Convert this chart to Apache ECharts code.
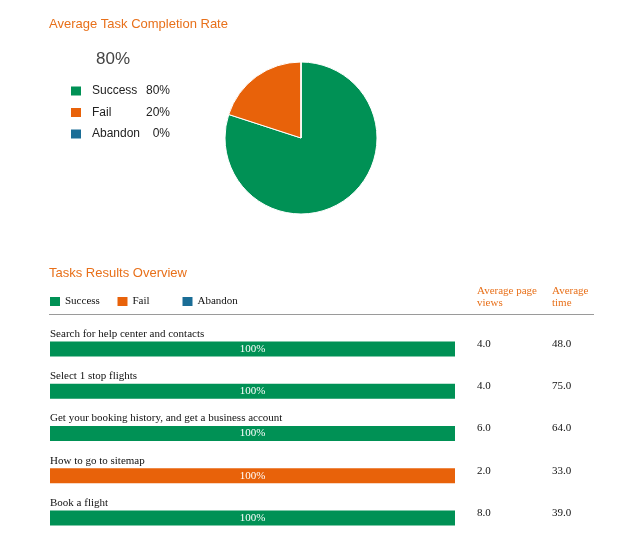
<!DOCTYPE html>
<html>
<head>
<meta charset="utf-8">
<title>Task results</title>
<script src="https://cdn.jsdelivr.net/npm/echarts@6/dist/echarts.min.js"></script>
<style>
  html, body { margin: 0; padding: 0; background: #fff; }
  #main { width: 626px; height: 539px; }
</style>
</head>
<body>
<div id="main"></div>
<script type="text/javascript">
// pie data
var rateNames = ['Success', 'Fail', 'Abandon'];
var rateValues = [80, 20, 0];

// task rows
var tasks = [
  'Search for help center and contacts',
  'Select 1 stop flights',
  'Get your booking history, and get a business account',
  'How to go to sitemap',
  'Book a flight'
];
var successPct = [100, 100, 100, 0, 100];
var failPct = [0, 0, 0, 100, 0];
var abandonPct = [0, 0, 0, 0, 0];
var pageViews = [4, 4, 6, 2, 8];
var avgTime = [48, 75, 64, 33, 39];

var colors = ['#009155', '#E8620A', '#1A6D96'];
var orange = '#E8701A';
var sans = '"Liberation Sans", Arial, sans-serif';
var serif = '"Liberation Serif", "Times New Roman", serif';

var myChart = echarts.init(document.getElementById('main'));

function barSeries(name, data, color) {
  return {
    name: name,
    type: 'bar',
    stack: 'res',
    barWidth: 15,
    barGap: '-100%',
    data: data,
    itemStyle: { color: color },
    label: {
      show: true,
      position: 'inside',
      color: '#fff',
      fontFamily: serif,
      fontSize: 11,
      formatter: function (p) { return p.value > 0 ? p.value + '%' : ''; }
    }
  };
}

function titleText(text, left, top, size, family) {
  return {
    text: text, left: left, top: top, padding: 0,
    textStyle: { color: orange, fontFamily: family, fontSize: size, lineHeight: 12, fontWeight: 'normal' }
  };
}

// right-hand value column, one category axis per column
function valueAxis(offset, values) {
  return {
    type: 'category',
    inverse: true,
    position: 'right',
    offset: offset,
    data: tasks,
    axisLine: { show: false },
    axisTick: { show: false },
    axisLabel: {
      margin: 0, interval: 0, align: 'left', verticalAlign: 'bottom',
      formatter: function (v, i) { return '{a|' + values[i].toFixed(1) + '}'; },
      rich: { a: { fontFamily: serif, fontSize: 11, lineHeight: 10, color: '#111' } }
    }
  };
}

var option = {
  animation: false,
  color: colors,
  title: [
    { text: 'Average Task Completion Rate', left: 49, top: 18, padding: 0,
      textStyle: { color: orange, fontFamily: sans, fontSize: 13, fontWeight: 'normal' } },
    { text: rateValues[0] + '%', left: 96, top: 51, padding: 0,
      textStyle: { color: '#444', fontFamily: sans, fontSize: 17, fontWeight: 'normal' } },
    { text: 'Tasks Results Overview', left: 49, top: 267, padding: 0,
      textStyle: { color: orange, fontFamily: sans, fontSize: 13, fontWeight: 'normal' } },
    titleText('Average page\nviews', 477, 285, 11, serif),
    titleText('Average\ntime', 552, 285, 11, serif)
  ],
  legend: [
    {
      orient: 'vertical',
      left: 71,
      top: 85,
      padding: 0,
      icon: 'rect',
      itemWidth: 10,
      itemHeight: 9,
      itemGap: 9.5,
      data: rateNames,
      formatter: function (name) {
        var v = rateValues[rateNames.indexOf(name)];
        return '{n|' + name + '}{v|' + v + '%}';
      },
      textStyle: {
        rich: {
          n: { width: 55, padding: [0, 0, 0, 6], fontFamily: sans, fontSize: 12, lineHeight: 14, color: '#222' },
          v: { width: 23, align: 'right', fontFamily: sans, fontSize: 12, lineHeight: 14, color: '#222' }
        }
      }
    },
    {
      orient: 'horizontal',
      left: 50,
      top: 296,
      padding: 0,
      icon: 'rect',
      itemWidth: 10,
      itemHeight: 9,
      itemGap: 0,
      data: rateNames,
      formatter: function (name) { return '{' + name + '|' + name + '}'; },
      textStyle: {
        rich: {
          Success: { width: 52.5, fontFamily: serif, fontSize: 11, lineHeight: 12, color: '#111' },
          Fail: { width: 50, fontFamily: serif, fontSize: 11, lineHeight: 12, color: '#111' },
          Abandon: { width: 50, fontFamily: serif, fontSize: 11, lineHeight: 12, color: '#111' }
        }
      }
    }
  ],
  graphic: [
    { type: 'line', shape: { x1: 49, y1: 314.5, x2: 594, y2: 314.5 },
      style: { stroke: '#9a9a9a', lineWidth: 1.2 }, silent: true }
  ],
  grid: { left: 50, top: 328, width: 405, height: 213.5 },
  xAxis: { type: 'value', min: 0, max: 100, show: false },
  yAxis: [
    { type: 'category', inverse: true, data: tasks, show: false },
    valueAxis(22, pageViews),
    valueAxis(97, avgTime)
  ],
  series: [
    {
      name: 'Completion',
      type: 'pie',
      center: [301, 138],
      radius: 76,
      startAngle: 90,
      label: { show: false },
      labelLine: { show: false },
      itemStyle: { borderColor: '#fff', borderWidth: 1 },
      data: rateNames.map(function (n, i) {
        return { name: n, value: rateValues[i], itemStyle: { color: colors[i] } };
      })
    },
    barSeries('Success', successPct, colors[0]),
    barSeries('Fail', failPct, colors[1]),
    barSeries('Abandon', abandonPct, colors[2]),
    {
      // task names written above each bar
      name: 'Task',
      type: 'bar',
      barWidth: 15,
      barGap: '-100%',
      silent: true,
      z: 3,
      data: tasks.map(function () { return 100; }),
      itemStyle: { color: 'rgba(0,0,0,0)' },
      label: {
        show: true,
        position: [0, -7.5],
        align: 'left',
        verticalAlign: 'middle',
        fontFamily: serif,
        fontSize: 11,
        color: '#111',
        formatter: function (p) { return tasks[p.dataIndex]; }
      }
    }
  ]
};

myChart.setOption(option);
</script>
</body>
</html>
